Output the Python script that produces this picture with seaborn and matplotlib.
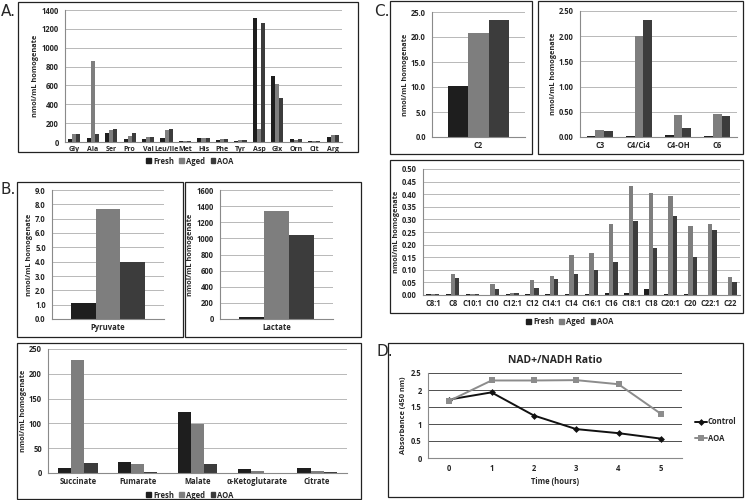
import numpy as np
import pandas as pd
import seaborn as sns
import matplotlib.pyplot as plt
from matplotlib.patches import Rectangle, Patch
from matplotlib.lines import Line2D

sns.set_style("white")
plt.rcParams['font.family'] = ['Open Sans', 'DejaVu Sans']

groups = ["Fresh", "Aged", "AOA"]
colors = ["#1e1e1e", "#7e7e7e", "#3c3c3c"]

# A. amino acids
aa = ["Gly", "Ala", "Ser", "Pro", "Val", "Leu/Ile", "Met", "His", "Phe", "Tyr", "Asp", "Glx", "Orn", "Cit", "Arg"]
aa_fresh = [35, 45, 100, 30, 35, 45, 8, 40, 25, 15, 1310, 705, 35, 8, 55]
aa_aged = [85, 855, 130, 65, 55, 130, 10, 40, 35, 25, 140, 620, 25, 8, 78]
aa_aoa = [85, 90, 140, 100, 50, 140, 10, 45, 35, 25, 1265, 470, 35, 8, 75]

# B. pyruvate / lactate / TCA
pyr = ["Pyruvate"]
pyr_vals = [1.15, 7.7, 4.0]
lac = ["Lactate"]
lac_vals = [25, 1340, 1040]
tca = ["Succinate", "Fumarate", "Malate", "α-Ketoglutarate", "Citrate"]
tca_fresh = [10, 22, 122, 8, 10]
tca_aged = [228, 18, 99, 5, 5]
tca_aoa = [20, 3, 18, 1, 2]

# C. acylcarnitines
c2 = ["C2"]
c2_vals = [10.3, 20.9, 23.5]
cs = ["C3", "C4/Ci4", "C4-OH", "C6"]
cs_fresh = [0.02, 0.02, 0.03, 0.02]
cs_aged = [0.13, 2.0, 0.44, 0.45]
cs_aoa = [0.12, 2.33, 0.17, 0.42]
cl = ["C8:1", "C8", "C10:1", "C10", "C12:1", "C12", "C14:1", "C14", "C16:1", "C16",
      "C18:1", "C18", "C20:1", "C20", "C22:1", "C22"]
cl_fresh = [0.002, 0.002, 0.002, 0.0, 0.002, 0.002, 0.002, 0.005, 0.002, 0.007,
            0.008, 0.023, 0.002, 0.005, 0.001, 0.001]
cl_aged = [0.002, 0.085, 0.005, 0.042, 0.006, 0.058, 0.075, 0.157, 0.165, 0.28,
           0.433, 0.403, 0.393, 0.272, 0.28, 0.073]
cl_aoa = [0.005, 0.068, 0.002, 0.022, 0.006, 0.026, 0.065, 0.082, 0.098, 0.13,
          0.293, 0.188, 0.315, 0.15, 0.258, 0.052]

# D. NAD+/NADH
hours = [0, 1, 2, 3, 4, 5]
nad_control = [1.72, 1.93, 1.25, 0.85, 0.73, 0.57]
nad_aoa = [1.68, 2.28, 2.28, 2.29, 2.17, 1.30]

W, H = 745, 500
fig = plt.figure(figsize=(7.45, 5), dpi=100)

over = fig.add_axes([0, 0, 1, 1])
over.set_xlim(0, W)
over.set_ylim(H, 0)
over.axis('off')


def px_axes(x0, y0, x1, y1):
    return fig.add_axes([x0 / W, 1 - y1 / H, (x1 - x0) / W, (y1 - y0) / H])


def box(x0, y0, x1, y1):
    over.add_patch(Rectangle((x0, y0), x1 - x0, y1 - y0, fill=False, ec="#222222", lw=0.9))


def long_df(cats, *series):
    rows = []
    for g, vals in zip(groups, series):
        for c, v in zip(cats, vals):
            rows.append({"cat": c, "group": g, "val": v})
    return pd.DataFrame(rows)


def bars(ax, cats, series, ymax, step, fmt, xfs=5.5):
    df = long_df(cats, *series)
    sns.barplot(data=df, x="cat", y="val", hue="group", palette=colors, hue_order=groups,
                order=cats, width=0.66, gap=0, errorbar=None, legend=False, ax=ax,
                saturation=1, linewidth=0)
    n = len(cats)
    ax.set_xlim(-0.5, n - 0.5)
    ax.set_ylim(0, ymax)
    ax.set_yticks(np.arange(0, ymax + step / 2, step))
    ax.set_yticklabels([fmt.format(v) for v in np.arange(0, ymax + step / 2, step)])
    ax.grid(axis='y', color='#b8b8b8', lw=0.7)
    ax.grid(axis='x', visible=False)
    ax.set_axisbelow(True)
    for s in ["top", "right"]:
        ax.spines[s].set_visible(False)
    for s in ["left", "bottom"]:
        ax.spines[s].set_color("#8a8a8a")
        ax.spines[s].set_linewidth(0.8)
    ax.tick_params(axis='y', length=2.5, width=0.6, color='#8a8a8a', labelsize=5.5, pad=2)
    ax.tick_params(axis='x', which='major', length=0, labelsize=xfs, pad=3)
    ax.set_xticks(np.arange(-0.5, n), minor=True)
    ax.tick_params(axis='x', which='minor', length=2.5, width=0.6, color='#8a8a8a')
    for t in ax.get_xticklabels() + ax.get_yticklabels():
        t.set_fontweight('bold')
    ax.set_xlabel("")
    ax.set_ylabel("nmol/mL homogenate", fontsize=5.3, fontweight='bold', labelpad=1.5)


def bar_legend(x, y):
    handles = [Patch(color=c) for c in colors]
    fig.legend(handles, groups, loc='center', bbox_to_anchor=(x / W, 1 - y / H), ncol=3,
               frameon=False, handlelength=0.6, handleheight=0.6, handletextpad=0.3,
               columnspacing=0.7, prop={'size': 5.5, 'weight': 'bold'})


# Panel A
box(18, 2, 358, 152)
ax = px_axes(65, 10, 342, 142)
bars(ax, aa, [aa_fresh, aa_aged, aa_aoa], 1400, 200, "{:.0f}", xfs=5)
bar_legend(190, 161)

# Panel B
box(17, 182, 183, 337)
ax = px_axes(52, 190, 164, 319)
bars(ax, pyr, [[v] for v in pyr_vals], 9, 1, "{:.1f}")
box(185, 182, 361, 337)
ax = px_axes(220, 190, 333, 319)
bars(ax, lac, [[v] for v in lac_vals], 1600, 200, "{:.0f}")
box(17, 343, 361, 499)
ax = px_axes(48, 349, 347, 473)
bars(ax, tca, [tca_fresh, tca_aged, tca_aoa], 250, 50, "{:.0f}")
bar_legend(190, 495)

# Panel C
box(390, 1, 532, 154)
ax = px_axes(432, 12, 525, 137)
bars(ax, c2, [[v] for v in c2_vals], 25, 5, "{:.1f}")
box(538, 1, 743, 154)
ax = px_axes(580, 11, 737, 137)
bars(ax, cs, [cs_fresh, cs_aged, cs_aoa], 2.5, 0.5, "{:.2f}")
box(390, 160, 743, 313)
ax = px_axes(423, 169, 740, 295)
bars(ax, cl, [cl_fresh, cl_aged, cl_aoa], 0.5, 0.05, "{:.2f}")
bar_legend(570, 322)

# Panel D
box(388, 343, 743, 497)
ax = px_axes(428, 373, 682, 458)
dfd = pd.DataFrame({"hour": hours * 2,
                    "val": nad_control + nad_aoa,
                    "grp": ["Control"] * len(hours) + ["AOA"] * len(hours)})
sns.lineplot(data=dfd[dfd.grp == "Control"], x="hour", y="val", color="#111111", lw=1.4,
             marker="D", markersize=3.5, markeredgewidth=0, ax=ax)
sns.lineplot(data=dfd[dfd.grp == "AOA"], x="hour", y="val", color="#8c8c8c", lw=1.4,
             marker="s", markersize=5, markeredgewidth=0, ax=ax)
ax.set_xlim(-0.5, 5.5)
ax.set_ylim(0, 2.5)
ax.set_yticks([0, 0.5, 1, 1.5, 2, 2.5])
ax.set_yticklabels(["0", "0.5", "1", "1.5", "2", "2.5"])
ax.set_xticks(hours)
ax.set_xticks(np.arange(-0.5, 6), minor=True)
ax.grid(axis='y', color='#333333', lw=0.6)
ax.grid(axis='x', visible=False)
ax.set_axisbelow(True)
for s in ["top", "right"]:
    ax.spines[s].set_visible(False)
for s in ["left", "bottom"]:
    ax.spines[s].set_color("#8a8a8a")
    ax.spines[s].set_linewidth(0.8)
ax.tick_params(axis='y', length=2.5, width=0.6, color='#8a8a8a', labelsize=5.5, pad=2)
ax.tick_params(axis='x', which='major', length=0, labelsize=5.5, pad=4)
ax.tick_params(axis='x', which='minor', length=2.5, width=0.6, color='#8a8a8a')
for t in ax.get_xticklabels() + ax.get_yticklabels():
    t.set_fontweight('bold')
ax.set_xlabel("Time (hours)", fontsize=5.5, fontweight='bold', labelpad=3)
ax.set_ylabel("Absorbance (450 nm)", fontsize=5.3, fontweight='bold', labelpad=3)
ax.set_title("NAD+/NADH Ratio", fontsize=7.5, fontweight='bold', pad=7)
dh = [Line2D([], [], color="#111111", lw=1.4, marker="D", markersize=3.5, markeredgewidth=0),
      Line2D([], [], color="#8c8c8c", lw=1.4, marker="s", markersize=5, markeredgewidth=0)]
fig.legend(dh, ["Control", "AOA"], loc='center left', bbox_to_anchor=(688 / W, 1 - 430 / H),
           frameon=False, handlelength=1.6, handletextpad=0.1, labelspacing=1.0,
           prop={'size': 5.5, 'weight': 'bold'})

# panel letters
for lab, x, y in [("A.", 1, 11), ("B.", 1, 190), ("C.", 374, 12), ("D.", 376, 352)]:
    over.text(x, y, lab, fontsize=11, va='center', ha='left', family='DejaVu Sans')

fig.savefig("out.png", dpi=100)
